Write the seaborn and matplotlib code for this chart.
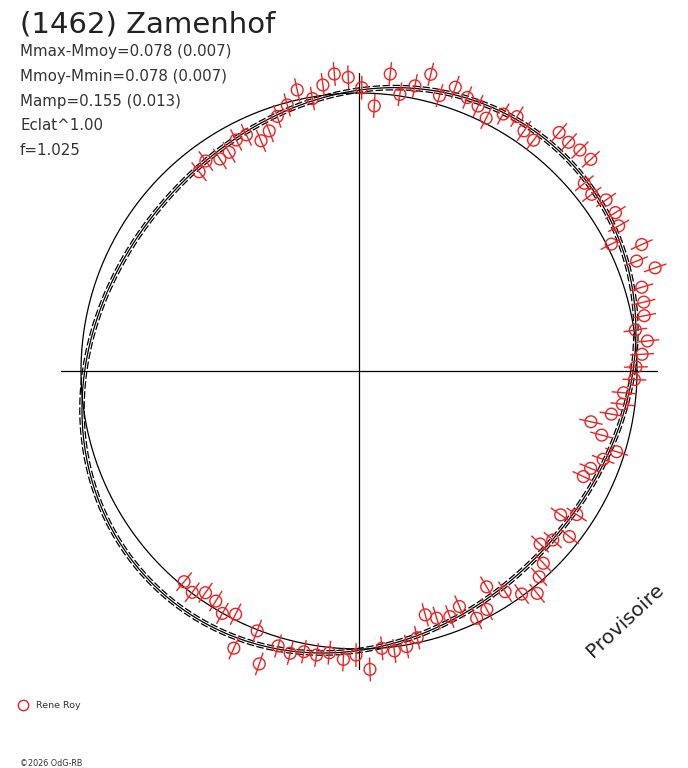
import numpy as np
import matplotlib
matplotlib.use("Agg")
import matplotlib.pyplot as plt
import matplotlib.lines as mlines
import pandas as pd
import seaborn as sns

# --- values ---
TITLE = "(1462) Zamenhof"
STATS = ["Mmax-Mmoy=0.078 (0.007)",
         "Mmoy-Mmin=0.078 (0.007)",
         "Mamp=0.155 (0.013)",
         "Eclat^1.00",
         "f=1.025"]
OBSERVER = "Rene Roy"
STAMP = "\u00a92026 OdG-RB"
WATERMARK = "Provisoire"

# phase angle (deg, counter-clockwise from east) and relative flux (radius)
angle_deg = [0.83, 3.38, 5.94, 8.44, 10.97, 13.6, 16.5, 19.2, 21.6, 24.1,
             26.7, 29.2, 31.7, 34.7, 37.2, 39.8, 42.4, 45.0, 47.5, 50.0,
             52.9, 55.5, 58.15, 60.7, 63.3, 65.8, 68.4, 71.25, 73.7, 76.4,
             78.9, 81.6, 84.0, 86.7, 89.45, 92.1, 94.75, 97.2, 99.7, 102.4,
             105.1, 107.8, 110.5, 113.05, 115.5, 118.0, 120.7, 123.25, 126.1, 128.75,
             230.3, 233.0, 235.3, 238.1, 240.6, 243.1, 245.7, 248.6, 251.2, 253.6,
             256.3, 258.9, 261.5, 264.0, 266.9, 269.4, 272.1, 274.7, 277.2, 279.8,
             282.3, 285.2, 287.45, 290.3, 293.1, 295.45, 298.2, 300.6, 303.5, 306.1,
             308.7, 311.2, 313.8, 316.3, 318.9, 321.8, 324.5, 326.6, 334.8, 337.2,
             340.1, 342.6, 345.2, 347.65, 350.3, 352.8, 355.3, 358.2]
flux = [0.996, 1.020, 1.043, 1.005, 1.045, 1.054, 1.061, 1.128, 1.074, 1.114,
        1.016, 1.070, 1.084, 1.081, 1.051, 1.055, 1.129, 1.124, 1.116, 1.120,
        1.041, 1.048, 1.077, 1.060, 1.018, 1.045, 1.058, 1.078, 1.032, 1.098,
        1.045, 1.006, 1.074, 0.955, 1.019, 1.057, 1.072, 1.037, 0.994, 1.035,
        0.991, 0.962, 0.922, 0.900, 0.941, 0.941, 0.915, 0.912, 0.935, 0.919,
        0.985, 0.997, 0.970, 0.975, 1.001, 0.981, 1.094, 1.004, 1.113, 1.031,
        1.045, 1.029, 1.033, 1.019, 1.039, 1.022, 1.074, 1.001, 1.015, 1.006,
        0.982, 0.909, 0.932, 0.942, 0.921, 0.985, 0.973, 0.902, 0.952, 0.993,
        1.025, 0.984, 0.958, 0.901, 0.925, 0.963, 0.891, 0.938, 0.892, 0.904,
        0.934, 0.971, 0.903, 0.854, 0.921, 0.955, 0.955, 0.991]
flux_err = [0.043] * len(flux)

# Fourier model of the fitted curve (radius vs angle), harmonics 1 and 2
fit_c0 = 0.997
fit_cos = [-0.0006, -0.0108]
fit_sin = [0.0025, 0.0706]
fit_band = 0.008

sns.set_style("white")
plt.rcParams['font.family'] = ['DejaVu Sans']

W, H = 688, 768
fig = plt.figure(figsize=(W / 100, H / 100), dpi=100)

# polar axes centred on the cross, mean circle radius 278 px
cx, cy, R = 359, 371, 278
rmax = 1.2
half = rmax * R
ax = fig.add_axes([(cx - half) / W, (H - cy - half) / H, 2 * half / W, 2 * half / H],
                  projection='polar')
ax.set_rlim(0, rmax)
ax.grid(False)
ax.set_xticks([])
ax.set_yticks([])
ax.spines['polar'].set_visible(False)
ax.set_facecolor('none')

# cross through the centre
for t in [0, np.pi / 2, np.pi, 3 * np.pi / 2]:
    ax.plot([t, t], [0, 1.071], color='black', lw=0.9)

# mean-brightness circle
theta = np.linspace(0, 2 * np.pi, 721)
ax.plot(theta, np.ones_like(theta), color='black', lw=0.9)

# fitted curve
model = np.full_like(theta, fit_c0)
for k, (a, b) in enumerate(zip(fit_cos, fit_sin), start=1):
    model += a * np.cos(k * theta) + b * np.sin(k * theta)
fit_df = pd.DataFrame({'theta': theta, 'r': model})
sns.lineplot(data=fit_df, x='theta', y='r', ax=ax, color='black', lw=0.9,
             sort=False, estimator=None)
for off in (-fit_band, fit_band):
    ax.plot(theta, model + off, color='black', lw=0.9, ls=(0, (6, 2)))

# observations
obs = pd.DataFrame({'theta': np.deg2rad(angle_deg), 'r': flux, 'err': flux_err})
ax.vlines(obs['theta'], obs['r'] - obs['err'], obs['r'] + obs['err'],
          color='#ee2222', lw=1.0, zorder=4)
sns.scatterplot(data=obs, x='theta', y='r', ax=ax, marker='o', s=72,
                color='#ee2222', facecolor='none', edgecolor='#ee2222',
                linewidth=1.0, zorder=5, legend=False)
ax.set_xlabel('')
ax.set_ylabel('')

# texts
fig.text(20 / W, 1 - 32.5 / H, TITLE, fontsize=21, color='#222222', va='baseline')
for i, s in enumerate(STATS):
    fig.text(20 / W, 1 - (56 + 24.8 * i) / H, s, fontsize=10.8, color='#333333',
             va='baseline')

fig.add_artist(mlines.Line2D([22.7 / W], [1 - 705 / H], marker='o', markersize=7.5,
                             mfc='none', mec='#ee2222', mew=1.0,
                             transform=fig.transFigure))
fig.text(35.5 / W, 1 - 706 / H, OBSERVER, fontsize=6.8, color='#333333', va='center')
fig.text(20 / W, 1 - 763 / H, STAMP, fontsize=5.8, color='#333333', va='center')

fig.text(625 / W, 1 - 620 / H, WATERMARK, fontsize=14.5, color='#222222',
         rotation=43, ha='center', va='center', rotation_mode='anchor')

fig.savefig('out.png', dpi=100)
plt.close(fig)
